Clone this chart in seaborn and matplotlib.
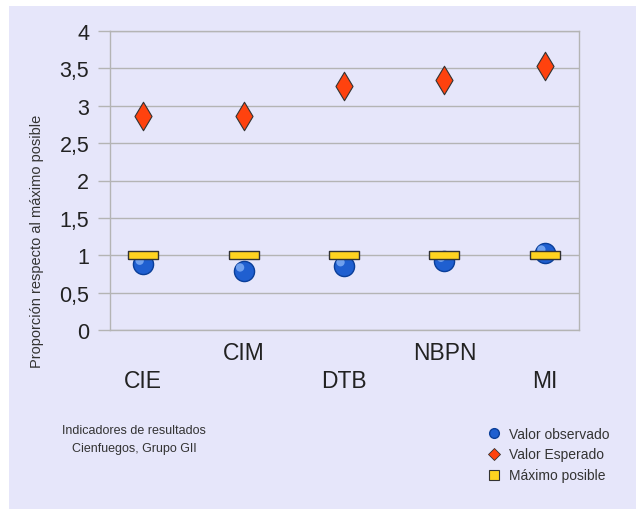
import matplotlib
matplotlib.use("Agg")
import matplotlib.pyplot as plt
import matplotlib.transforms as mtransforms
import seaborn as sns
import pandas as pd
from matplotlib.patches import Rectangle
from matplotlib.lines import Line2D
from matplotlib.ticker import FuncFormatter

categories = ["CIE", "CIM", "DTB", "NBPN", "MI"]
observed = [0.88, 0.79, 0.86, 0.92, 1.03]
expected = [2.86, 2.86, 3.26, 3.34, 3.53]
maximum = [1.0, 1.0, 1.0, 1.0, 1.0]
y_ticks = [0, 0.5, 1, 1.5, 2, 2.5, 3, 3.5, 4]

sns.set_theme(style="white")
plt.rcParams["font.family"] = ["Liberation Sans", "DejaVu Sans"]

bg = "#e6e6fa"
grid_c = "#b4b4b4"

df = pd.DataFrame({"cat": categories, "obs": observed, "exp": expected, "max": maximum})

fig = plt.figure(figsize=(6.36, 5.10), dpi=100, facecolor="white")
fig.patches.append(Rectangle((9 / 636, 0), 1 - 9 / 636, 1 - 7 / 510,
                             transform=fig.transFigure, facecolor=bg,
                             edgecolor="none", zorder=-10))
ax = fig.add_axes([110 / 636, (510 - 331) / 510, 469 / 636, 299 / 510])
ax.set_facecolor(bg)

rect_marker = [(-1, -0.25), (1, -0.25), (1, 0.25), (-1, 0.25), (-1, -0.25)]

sns.scatterplot(data=df, x="cat", y="obs", ax=ax, marker="o", s=14.5 ** 2,
                color="#1f5fd0", edgecolor="#0b3f99", linewidth=1, zorder=3)
# sphere highlight (same data points, small visual offset)
sns.scatterplot(data=df, x="cat", y="obs", ax=ax, marker="o", s=6 ** 2,
                color="#6fa0ee", edgecolor="none", linewidth=0, zorder=3.5)
hl = ax.collections[-1]
hl.set_offset_transform(ax.transData + mtransforms.ScaledTranslation(-2.5 / 72, 2.5 / 72, fig.dpi_scale_trans))
sns.scatterplot(data=df, x="cat", y="max", ax=ax, marker=rect_marker, s=22 ** 2,
                color="#ffd320", edgecolor="#333333", linewidth=1, zorder=4)
sns.scatterplot(data=df, x="cat", y="exp", ax=ax, marker="d", s=14.5 ** 2,
                color="#ff420e", edgecolor="#333333", linewidth=0.8, zorder=4)

ax.set_xlim(-0.33, 4.34)
ax.set_ylim(0, 4)
ax.set_yticks(y_ticks)
ax.yaxis.set_major_formatter(FuncFormatter(lambda v, p: ("%g" % v).replace(".", ",")))
ax.grid(axis="y", color=grid_c, linewidth=1)
ax.set_axisbelow(True)
for s in ax.spines.values():
    s.set_color(grid_c)
    s.set_linewidth(1)
ax.tick_params(axis="y", length=9, color=grid_c, width=1, labelsize=15.5,
               labelcolor="#222222", pad=6, left=True)
ax.tick_params(axis="x", length=0, labelsize=16.5, labelcolor="#222222")
ax.set_xlabel("")
ax.set_ylabel("Proporción respecto al máximo posible", fontsize=10.5,
              color="#333333")
ax.yaxis.set_label_coords(44 / 636, 1 - 241 / 510, transform=fig.transFigure)

for i, t in enumerate(ax.xaxis.get_major_ticks()):
    t.set_pad(8 if i % 2 == 1 else 28)

fig.text(134 / 636, 1 - 440 / 510, "Indicadores de resultados\nCienfuegos, Grupo GII",
         ha="center", va="center", fontsize=9, color="#333333", linespacing=1.6)

handles = [
    Line2D([], [], linestyle="none", marker="o", markersize=7,
           markerfacecolor="#1f5fd0", markeredgecolor="#0b3f99"),
    Line2D([], [], linestyle="none", marker="D", markersize=6,
           markerfacecolor="#ff420e", markeredgecolor="#333333", markeredgewidth=0.6),
    Line2D([], [], linestyle="none", marker="s", markersize=7,
           markerfacecolor="#ffd320", markeredgecolor="#333333", markeredgewidth=0.8),
]
fig.legend(handles, ["Valor observado", "Valor Esperado", "Máximo posible"],
           loc="upper left", bbox_to_anchor=(481 / 636, 1 - 422 / 510),
           frameon=False, fontsize=10, labelcolor="#333333",
           handlelength=1.0, handletextpad=0.6, labelspacing=0.5, borderaxespad=0)

fig.savefig("out.png", dpi=100, facecolor="white")
